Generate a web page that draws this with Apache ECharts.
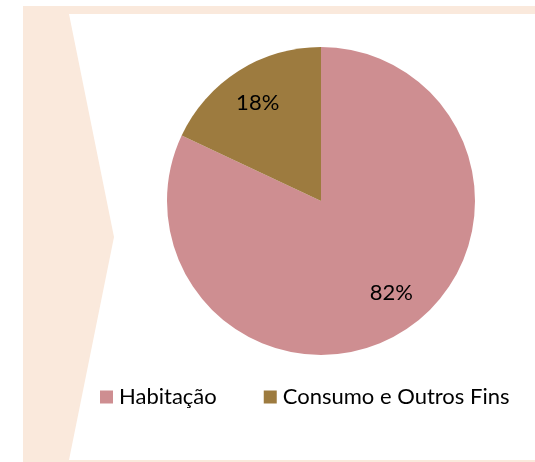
<!DOCTYPE html>
<html>
<head>
<meta charset="utf-8">
<script src="https://cdn.jsdelivr.net/npm/echarts@6/dist/echarts.min.js"></script>
<style>
  html, body { margin: 0; padding: 0; background: #fff; }
  #chart { width: 535px; height: 462px; }
</style>
</head>
<body>
<div id="chart"></div>
<script>
// 数据
var categories = ['Habitação', 'Consumo e Outros Fins'];
var values = [82, 18];
var colors = ['#CE8E91', '#9D7B3F'];

var chart = echarts.init(document.getElementById('chart'));

var pieData = categories.map(function (name, i) {
  return { name: name, value: values[i], itemStyle: { color: colors[i] } };
});

// 标签微调 (跟原图对齐)
var labelNudge = [[6, -9], [1, 3]];

var option = {
  animation: false,
  backgroundColor: '#fff',
  // 背景的米色框和箭头
  graphic: [
    {
      type: 'rect', z: -10,
      shape: { x: 23, y: 6, width: 512, height: 456 },
      style: { fill: '#FAE9DC' }
    },
    {
      type: 'polygon', z: -9,
      shape: { points: [[69, 14], [535, 14], [535, 460], [69, 460], [114, 237]] },
      style: { fill: '#fff' }
    }
  ],
  legend: {
    data: categories,
    bottom: 54,
    left: 100,
    padding: 0,
    itemWidth: 13,
    itemHeight: 13,
    itemGap: 47,
    icon: 'rect',
    textStyle: { fontFamily: 'Lato', fontSize: 22, color: '#000', padding: [0, 0, 0, 1] }
  },
  series: [
    {
      type: 'pie',
      center: [321, 201],
      radius: 154,
      startAngle: 90,
      clockwise: true,
      label: { show: false },
      labelLine: { show: false },
      emphasis: { disabled: true },
      data: pieData
    },
    {
      // 透明的环, 只用来放百分比标签
      type: 'pie',
      center: [321, 201],
      radius: [80, 154],
      startAngle: 90,
      clockwise: true,
      silent: true,
      itemStyle: { color: 'rgba(0,0,0,0)' },
      label: {
        show: true,
        position: 'inside',
        formatter: '{c}%',
        fontFamily: 'Lato',
        fontSize: 22,
        color: '#000'
      },
      labelLine: { show: false },
      data: categories.map(function (name, i) {
        return {
          name: name, value: values[i],
          itemStyle: { color: 'rgba(0,0,0,0)' },
          label: { offset: labelNudge[i] }
        };
      })
    }
  ]
};

chart.setOption(option);
window.onresize = chart.resize;
</script>
</body>
</html>
